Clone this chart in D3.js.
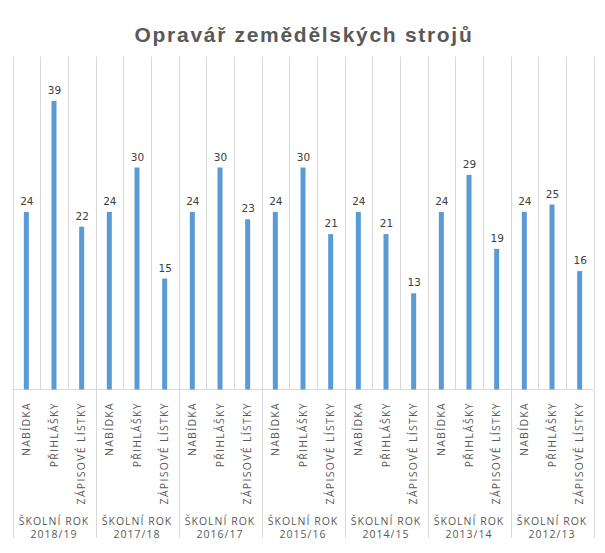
<!DOCTYPE html>
<html>
<head>
<meta charset="utf-8">
<script src="https://cdn.jsdelivr.net/npm/d3@7"></script>
<style>
  html, body { margin: 0; padding: 0; background: #ffffff; }
  svg { display: block; }
</style>
</head>
<body>
<svg id="chart" width="605" height="553"></svg>
<script>
const title = "Opravář zemědělských strojů";
const groups = ["2018/19", "2017/18", "2016/17", "2015/16", "2014/15", "2013/14", "2012/13"];
const groupPrefix = "ŠKOLNÍ ROK";
const subCategories = ["NABÍDKA", "PŘIHLÁŠKY", "ZÁPISOVÉ LÍSTKY"];
const nabidka = [24, 24, 24, 24, 24, 24, 24];
const prihlasky = [39, 30, 30, 30, 21, 29, 25];
const zapisoveListky = [22, 15, 23, 21, 13, 19, 16];
const yMax = 45;

const seriesBySub = [nabidka, prihlasky, zapisoveListky];
const data = [];
groups.forEach((g, gi) => {
  subCategories.forEach((s, si) => {
    data.push({ key: g + "|" + s, group: g, sub: s, value: seriesBySub[si][gi] });
  });
});

const svg = d3.select("#chart");
const pLeft = 12.5, pRight = 593.5, pTop = 56.5, pBottom = 389.5;

const x = d3.scaleBand().domain(data.map(d => d.key)).range([pLeft, pRight]).padding(0);
const y = d3.scaleLinear().domain([0, yMax]).range([pBottom, pTop]);

// title
svg.append("text")
  .attr("x", 304).attr("y", 41.5)
  .attr("text-anchor", "middle")
  .attr("font-family", "'Liberation Sans', Arial, sans-serif")
  .attr("font-weight", "bold")
  .attr("font-size", 21)
  .attr("letter-spacing", 1.7)
  .attr("fill", "#595959")
  .text(title);

// vertical gridlines at category boundaries
const bounds = data.map(d => x(d.key)).concat([x.range()[1]]);
svg.append("g").selectAll("line").data(bounds).join("line")
  .attr("x1", d => Math.round(d) + 0.5).attr("x2", d => Math.round(d) + 0.5)
  .attr("y1", pTop).attr("y2", pBottom)
  .attr("stroke", "#d9d9d9").attr("stroke-width", 1);

// group separators extending through axis labels
const groupBounds = groups.map((g, i) => x(g + "|" + subCategories[0])).concat([x.range()[1]]);
svg.append("g").selectAll("line").data(groupBounds).join("line")
  .attr("x1", d => Math.round(d) + 0.5).attr("x2", d => Math.round(d) + 0.5)
  .attr("y1", pBottom).attr("y2", 538)
  .attr("stroke", "#d9d9d9").attr("stroke-width", 1);

// axis line
svg.append("line")
  .attr("x1", pLeft).attr("x2", pRight)
  .attr("y1", pBottom).attr("y2", pBottom)
  .attr("stroke", "#d9d9d9").attr("stroke-width", 1);

// bars
const bw = 5;
svg.append("g").selectAll("rect").data(data).join("rect")
  .attr("x", d => x(d.key) + x.bandwidth() / 2 - bw / 2)
  .attr("y", d => y(d.value))
  .attr("width", bw)
  .attr("height", d => y(0) - y(d.value))
  .attr("fill", "#5b9bd5");

// value labels
svg.append("g").selectAll("text").data(data).join("text")
  .attr("x", d => x(d.key) + x.bandwidth() / 2 + 0.5)
  .attr("y", d => y(d.value) - 7)
  .attr("text-anchor", "middle")
  .attr("font-family", "'DejaVu Sans', Verdana, sans-serif")
  .attr("font-size", 10.5)
  .attr("fill", "#404040")
  .text(d => d.value);

// rotated category labels
svg.append("g").selectAll("text").data(data).join("text")
  .attr("transform", d => `translate(${x(d.key) + x.bandwidth() / 2 + 3.5},402) rotate(-90)`)
  .attr("text-anchor", "end")
  .attr("font-family", "'Open Sans', sans-serif")
  .attr("font-size", 10.5)
  .attr("letter-spacing", 1.3)
  .attr("fill", "#595959")
  .text(d => d.sub);

// group labels
const gl = svg.append("g").selectAll("text").data(groups).join("text")
  .attr("text-anchor", "middle")
  .attr("font-family", "'Open Sans', sans-serif")
  .attr("font-size", 10.5)
  .attr("letter-spacing", 1)
  .attr("fill", "#595959");
gl.append("tspan")
  .attr("x", (g) => x(g + "|" + subCategories[1]) + x.bandwidth() / 2)
  .attr("y", 525)
  .text(groupPrefix);
gl.append("tspan")
  .attr("x", (g) => x(g + "|" + subCategories[1]) + x.bandwidth() / 2)
  .attr("y", 538)
  .text(g => g);
</script>
</body>
</html>
